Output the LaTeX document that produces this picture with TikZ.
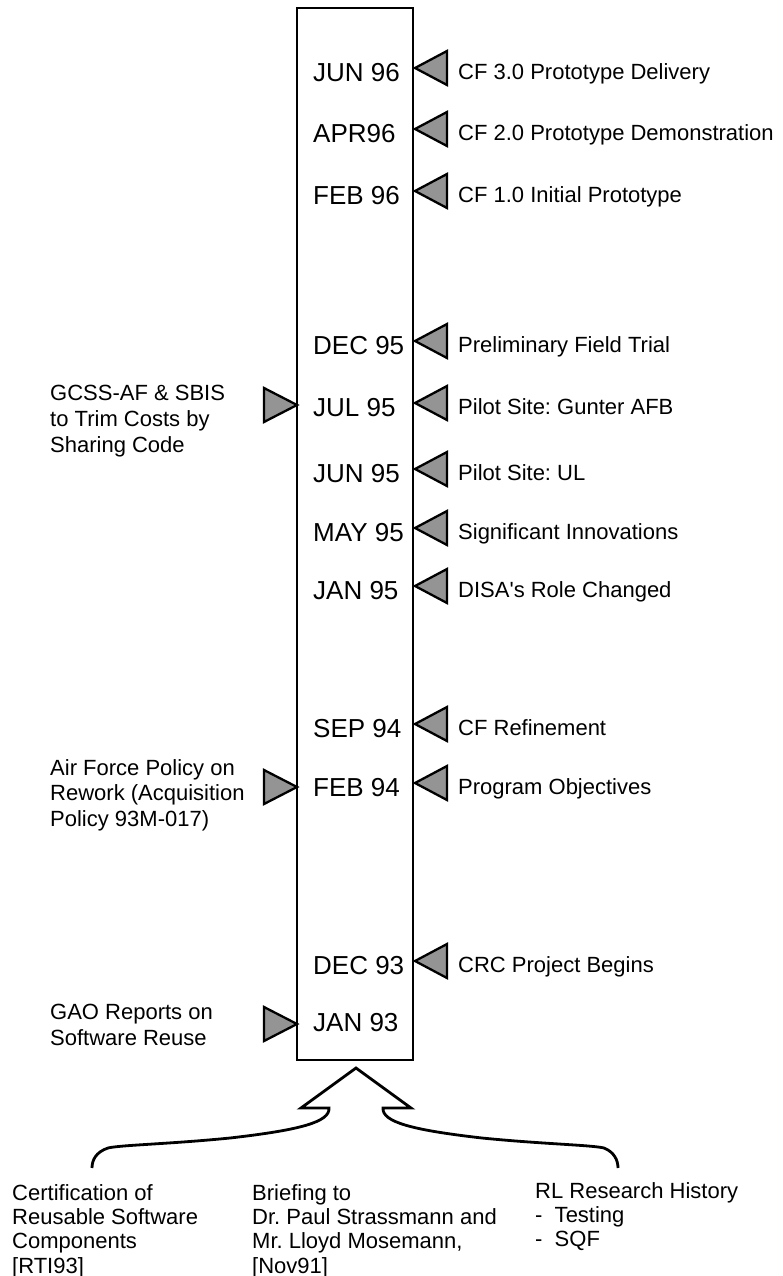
\documentclass[tikz,border=0pt]{standalone}
\usepackage{fontspec}
\setmainfont{Liberation Sans}
\frenchspacing
\begin{document}
\begin{tikzpicture}[x=1pt,y=-1pt,
  datetxt/.style={font=\fontsize{26}{30}\selectfont, inner sep=0pt, anchor=base west},
  labtxt/.style={font=\fontsize{22}{26}\selectfont, inner sep=0pt, anchor=base west},
  blocktxt/.style={font=\fontsize{22}{25.8}\selectfont, inner sep=0pt, anchor=north west, align=left},
  bottomtxt/.style={font=\fontsize{22}{24.4}\selectfont, inner sep=0pt, anchor=north west, align=left},
  tri/.style={draw=black, fill=black!42, line width=2.3pt, line join=miter},
  ptrleft/.pic={\draw[tri] (0,0) -- (32,-17) -- (32,17) -- cycle;},
  ptrright/.pic={\draw[tri] (0,0) -- (-33,-17) -- (-33,17) -- cycle;}
]
\useasboundingbox (0,0) rectangle (783,1276);

% timeline box
\node[draw, line width=2.8pt, minimum width=116pt, minimum height=1052pt,
      anchor=north west, inner sep=0pt, outer sep=0pt] (timeline) at (297,8) {};

% dates (y = text centre + 9.3)
\node[datetxt] (d1)  at (313,81.3)   {JUN 96};
\node[datetxt] (d2)  at (313,142.3)  {APR96};
\node[datetxt] (d3)  at (313,204.3)  {FEB 96};
\node[datetxt] (d4)  at (313,354.3)  {DEC 95};
\node[datetxt] (d5)  at (313,416.3)  {JUL 95};
\node[datetxt] (d6)  at (313,482.3)  {JUN 95};
\node[datetxt] (d7)  at (313,541.3)  {MAY 95};
\node[datetxt] (d8)  at (313,599.3)  {JAN 95};
\node[datetxt] (d9)  at (313,737.3)  {SEP 94};
\node[datetxt] (d10) at (313,796.3)  {FEB 94};
\node[datetxt] (d11) at (313,974.3)  {DEC 93};
\node[datetxt] (d12) at (313,1031.3) {JAN 93};

% right pointers
\pic at (415,68)  {ptrleft};
\pic at (415,129) {ptrleft};
\pic at (415,191) {ptrleft};
\pic at (415,341) {ptrleft};
\pic at (415,403) {ptrleft};
\pic at (415,469) {ptrleft};
\pic at (415,528) {ptrleft};
\pic at (415,586) {ptrleft};
\pic at (415,724) {ptrleft};
\pic at (415,783) {ptrleft};
\pic at (415,961) {ptrleft};

% right labels (y = text centre + 7.9)
\node[labtxt] (r1)  at (458,79.9)  {CF 3.0 Prototype Delivery};
\node[labtxt] (r2)  at (458,140.9) {CF 2.0 Prototype Demonstration};
\node[labtxt] (r3)  at (458,202.9) {CF 1.0 Initial Prototype};
\node[labtxt] (r4)  at (458,352.9) {Preliminary Field Trial};
\node[labtxt] (r5)  at (458,414.9) {Pilot Site: Gunter AFB};
\node[labtxt] (r6)  at (458,480.9) {Pilot Site: UL};
\node[labtxt] (r7)  at (458,539.9) {Significant Innovations};
\node[labtxt] (r8)  at (458,597.9) {DISA\textquotesingle s Role Changed};
\node[labtxt] (r9)  at (458,735.9) {CF Refinement};
\node[labtxt] (r10) at (458,794.9) {Program Objectives};
\node[labtxt] (r11) at (458,972.9) {CRC Project Begins};

% left pointers
\pic at (297,405)  {ptrright};
\pic at (297,787)  {ptrright};
\pic at (297,1024) {ptrright};

% left labels
\node[blocktxt] (l1) at (50,385)  {GCSS-AF \& SBIS\\to Trim Costs by\\Sharing Code};
\node[blocktxt] (l2) at (50,759)  {Air Force Policy on\\Rework (Acquisition\\Policy 93M-017)};
\node[blocktxt] (l3) at (50,1004) {GAO Reports on\\Software Reuse};

% bottom arrow with braces
\coordinate (apex) at (356,1068);
\coordinate (lend) at (92,1168);
\coordinate (rend) at (618,1168);
\draw[line width=2.8pt, line join=miter]
  (lend) .. controls (92,1160) and (96,1152) .. (108,1148)
         .. controls (120,1145) and (170,1144) .. (230,1138)
         .. controls (300,1130) and (330,1122) .. (329,1108)
  -- (301,1108) -- (apex) -- (411,1108) -- (383,1108)
         .. controls (382,1122) and (412,1130) .. (482,1138)
         .. controls (542,1144) and (592,1145) .. (604,1148)
         .. controls (614,1152) and (618,1160) .. (rend);

% bottom texts
\node[bottomtxt] (b1) at (12,1184)  {Certification of\\Reusable Software\\Components\\{[RTI93]}};
\node[bottomtxt] (b2) at (252,1184) {Briefing to\\Dr. Paul Strassmann and\\Mr. Lloyd Mosemann,\\{[Nov91]}};
\node[bottomtxt] (b3) at (535,1182) {RL Research History\\-\ \ Testing\\-\ \ SQF};
\end{tikzpicture}
\end{document}
